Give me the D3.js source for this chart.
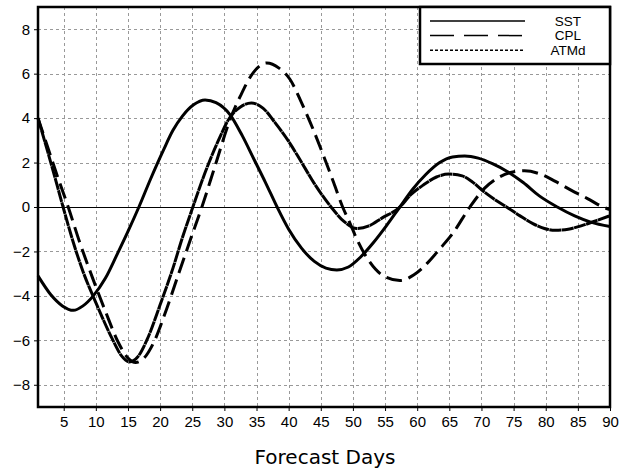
<!DOCTYPE html>
<html>
<head>
<meta charset="utf-8">
<script src="https://cdn.jsdelivr.net/npm/d3@7"></script>
<style>
  body { margin: 0; background: #fff; }
  svg { display: block; }
</style>
</head>
<body>
<div id="chart"></div>
<script>
// values: [forecast day, value]
const sst = [
  [1,-3.1],[3,-3.95],[4.8,-4.45],[6.5,-4.65],[8,-4.45],[9.6,-4.0],[11.5,-3.2],[13.2,-2.2],
  [15,-1.1],[16.7,0],[18.5,1.25],[20.5,2.55],[22,3.45],[23.5,4.1],[25.2,4.6],[27,4.82],
  [28.7,4.7],[30.9,4.15],[32.8,3.2],[34.6,2.15],[36.4,1.1],[38.2,0],[40,-1.0],[42,-1.85],
  [44,-2.45],[45.8,-2.75],[47.5,-2.83],[49.3,-2.7],[51.2,-2.25],[53.2,-1.6],[55.2,-0.85],
  [57.3,0],[59.3,0.8],[61.3,1.45],[63.5,2.0],[65.5,2.25],[67.4,2.3],[69.5,2.2],[71.7,1.95],
  [74,1.6],[76.5,1.1],[79,0.5],[81.8,0],[84.5,-0.4],[87,-0.68],[90,-0.88]
];
const cpl = [
  [1,4.0],[2.5,2.7],[4,1.4],[5.7,0],[7.5,-1.6],[9.5,-3.2],[11.5,-4.7],[13.5,-6.1],[15,-6.8],
  [16.2,-7.0],[17.5,-6.8],[19,-6.1],[21,-4.6],[23,-2.9],[24.8,-1.4],[26.5,0],[28.5,1.8],
  [30.9,3.95],[32.5,5.0],[34.5,6.05],[36.6,6.48],[38.5,6.25],[40.2,5.75],[42,4.7],[43.8,3.5],
  [45.5,2.25],[47,1.1],[48.4,0],[49.5,-0.7],[50.6,-1.44],[52.1,-2.25],[54.7,-3.09],[57.3,-3.31],
  [59.5,-3.05],[61.5,-2.55],[63.5,-1.89],[65.5,-1.2],[68.2,0],[70.5,0.85],[72.5,1.3],[74.5,1.55],
  [76.7,1.63],[79,1.5],[81.5,1.15],[84,0.75],[86.5,0.38],[88.9,0],[90,-0.12]
];
const atmd = [
  [1,4.0],[2.5,2.5],[4,0.95],[4.9,0],[6.5,-1.6],[8,-2.9],[10,-4.3],[12.5,-5.9],[14,-6.7],
  [15.2,-6.97],[16.5,-6.75],[18,-5.95],[20,-4.4],[22,-2.75],[23.5,-1.35],[25.1,0],[27,1.55],
  [29,2.95],[30.9,4.05],[32.5,4.5],[34.2,4.68],[36,4.45],[38,3.75],[40,2.95],[41.7,2.16],
  [44,1.05],[46.6,0],[48.6,-0.65],[50.6,-0.97],[52.5,-0.85],[54.5,-0.5],[57.3,0],[59,0.55],
  [61,1.0],[63,1.35],[65,1.48],[67,1.4],[68.5,1.15],[70.2,0.73],[72,0.35],[73.9,0],[76,-0.4],
  [78,-0.75],[79.8,-0.97],[81.5,-1.05],[83.5,-1.0],[85.5,-0.85],[88,-0.6],[90,-0.39]
];
const xTicks = [5,10,15,20,25,30,35,40,45,50,55,60,65,70,75,80,85,90];
const yTicks = [-8,-6,-4,-2,0,2,4,6,8];
const seriesNames = ["SST","CPL","ATMd"];

const width = 625, height = 472;
const margin = { top: 7, right: 15, bottom: 65, left: 38 };

const svg = d3.select("#chart").append("svg")
  .attr("width", width)
  .attr("height", height);

const x = d3.scaleLinear().domain([1, 90]).range([margin.left, width - margin.right]);
const y = d3.scaleLinear().domain([-9, 9]).range([height - margin.bottom, margin.top]);

// grid
const grid = svg.append("g")
  .attr("stroke", "#999")
  .attr("stroke-width", 1)
  .attr("stroke-dasharray", "3,3");
grid.selectAll("line.vx")
  .data(xTicks.filter(d => d < 90))
  .join("line")
  .attr("x1", d => Math.round(x(d)) + 0.5).attr("x2", d => Math.round(x(d)) + 0.5)
  .attr("y1", y(9)).attr("y2", y(-9));
grid.selectAll("line.hy")
  .data(yTicks.filter(d => d !== 0))
  .join("line")
  .attr("y1", d => Math.round(y(d)) + 0.5).attr("y2", d => Math.round(y(d)) + 0.5)
  .attr("x1", x(1)).attr("x2", x(90));

// zero line
svg.append("line")
  .attr("x1", x(1)).attr("x2", x(90))
  .attr("y1", Math.round(y(0)) + 0.5).attr("y2", Math.round(y(0)) + 0.5)
  .attr("stroke", "#000").attr("stroke-width", 1);

// axes
const xAxis = svg.append("g")
  .attr("transform", `translate(0,${y(-9)})`)
  .call(d3.axisBottom(x).tickValues(xTicks).tickSize(4).tickPadding(5));
const yAxis = svg.append("g")
  .attr("transform", `translate(${x(1)},0)`)
  .call(d3.axisLeft(y).tickValues(yTicks).tickSize(4).tickPadding(4)
    .tickFormat(d => d < 0 ? "\u2212" + Math.abs(d) : d));
[xAxis, yAxis].forEach(g => {
  g.select(".domain").remove();
  g.selectAll("text")
    .attr("font-family", "Liberation Sans, Arial, sans-serif")
    .attr("font-size", 15)
    .attr("fill", "#000");
});

// curves
const line = d3.line()
  .x(d => x(d[0]))
  .y(d => y(d[1]))
  .curve(d3.curveMonotoneX);

const styles = [
  { data: sst, dash: null, legendDash: null },
  { data: cpl, dash: "16,7", legendDash: "24,10" },
  { data: atmd, dash: "12,0.5", legendDash: "3,2" }
];

svg.append("g")
  .selectAll("path")
  .data(styles)
  .join("path")
  .attr("d", d => line(d.data))
  .attr("fill", "none")
  .attr("stroke", "#000")
  .attr("stroke-width", 3)
  .attr("stroke-dasharray", d => d.dash);

// frame
svg.append("rect")
  .attr("x", x(1)).attr("y", y(9))
  .attr("width", x(90) - x(1)).attr("height", y(-9) - y(9))
  .attr("fill", "none")
  .attr("stroke", "#000")
  .attr("stroke-width", 2.5);

// legend
const lg = svg.append("g");
lg.append("rect")
  .attr("x", 420).attr("y", y(9))
  .attr("width", x(90) - 420).attr("height", 57)
  .attr("fill", "#fff")
  .attr("stroke", "#000")
  .attr("stroke-width", 2.5);
const rows = lg.selectAll("g.row")
  .data(styles)
  .join("g")
  .attr("transform", (d, i) => `translate(0,${21 + i * 14.6})`);
rows.append("line")
  .attr("x1", 430).attr("x2", 525)
  .attr("stroke", "#000")
  .attr("stroke-width", 1.5)
  .attr("stroke-dasharray", d => d.legendDash);
rows.append("text")
  .attr("x", 568)
  .attr("dy", "0.36em")
  .attr("text-anchor", "middle")
  .attr("font-family", "Liberation Sans, Arial, sans-serif")
  .attr("font-size", 13.5)
  .text((d, i) => seriesNames[i]);

// axis title
svg.append("text")
  .attr("x", 325)
  .attr("y", 464)
  .attr("text-anchor", "middle")
  .attr("font-family", "DejaVu Sans, sans-serif")
  .attr("font-size", 20)
  .text("Forecast Days");
</script>
</body>
</html>
